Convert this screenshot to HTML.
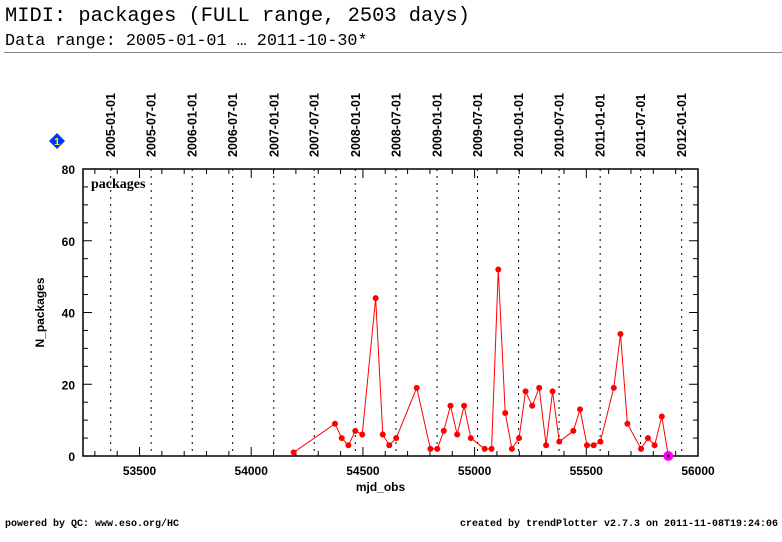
<!DOCTYPE html>
<html><head><meta charset="utf-8"><style>
body{margin:0;background:#fff;width:782px;height:542px;overflow:hidden;position:relative;font-family:"Liberation Sans",sans-serif}
.t{position:absolute;font-family:"Liberation Mono",monospace;color:#000;white-space:nowrap}
</style></head><body>
<div class="t" style="left:5px;top:6px;font-size:20.4px;line-height:22px">MIDI: packages (FULL range, 2503 days)</div>
<div class="t" style="left:5px;top:33px;font-size:16.8px;line-height:18px">Data range: 2005-01-01 … 2011-10-30*</div>
<div style="position:absolute;left:4px;top:52px;width:778px;height:1px;background:#888"></div>
<div class="t" style="left:5px;top:519px;font-size:10px;font-weight:bold">powered by QC: www.eso.org/HC</div>
<div class="t" style="right:4px;top:519px;font-size:10px;font-weight:bold">created by trendPlotter v2.7.3 on 2011-11-08T19:24:06</div>
<svg id="chart" width="782" height="542" style="position:absolute;left:0;top:0" font-family="Liberation Sans, sans-serif"></svg>
<script>
const xVals=[54190,54375,54405,54435,54466,54497,54557,54589,54618,54649,54741,54802,54833,54862,54892,54922,54953,54983,55045,55076,55106,55137,55167,55199,55228,55258,55289,55320,55349,55379,55442,55472,55503,55533,55563,55623,55653,55684,55745,55776,55806,55838,55867];
const yVals=[1,9,5,3,7,6,44,6,3,5,19,2,2,7,14,6,14,5,2,2,52,12,2,5,18,14,19,3,18,4,7,13,3,3,4,19,34,9,2,5,3,11,0];
const xTicks=[53500,54000,54500,55000,55500,56000];
const yTicks=[0,20,40,60,80];
const dateLabels=["2005-01-01","2005-07-01","2006-01-01","2006-07-01","2007-01-01","2007-07-01","2008-01-01","2008-07-01","2009-01-01","2009-07-01","2010-01-01","2010-07-01","2011-01-01","2011-07-01","2012-01-01"];
const dateMjd=[53371,53552,53736,53917,54101,54282,54466,54648,54832,55013,55197,55378,55562,55743,55927];
const L=83,R=698,T=169,B=456,xmin=53247,xmax=56000,ymin=0,ymax=80;
const sx=v=>L+(v-xmin)/(xmax-xmin)*(R-L);
const sy=v=>B-(v-ymin)/(ymax-ymin)*(B-T);
const svg=document.getElementById('chart');
const NS='http://www.w3.org/2000/svg';
function mk(tag,attrs,parent){const e=document.createElementNS(NS,tag);for(const k in attrs)e.setAttribute(k,attrs[k]);(parent||svg).appendChild(e);return e;}
dateMjd.forEach((m,i)=>{
  const x=sx(m);
  const g=mk('line',{x1:x,x2:x,y1:T,y2:B,stroke:'#000','stroke-width':1,'stroke-dasharray':'2,5'});
  
  
  const t=mk('text',{x:0,y:0,transform:`translate(${x+4.5},157) rotate(-90)`,'font-size':'12.5','font-weight':'bold'});
  t.textContent=dateLabels[i];
  
  
});
const fr=mk('rect',{x:L,y:T,width:R-L,height:B-T,fill:'none',stroke:'#000','stroke-width':1.5});


for(let v=53300;v<=56000;v+=100){const x=sx(v);const big=v%500===0;
  mk('line',{x1:x,x2:x,y1:B,y2:B-(big?9:5),stroke:'#000'});mk('line',{x1:x,x2:x,y1:T,y2:T+(big?9:5),stroke:'#000'});}
xTicks.forEach(v=>{const t=mk('text',{x:sx(v),y:B+19,'text-anchor':'middle','font-size':'12','font-weight':'bold'});t.textContent=v;
  
  });
for(let v=0;v<=80;v+=5){const y=sy(v);const big=v%20===0;
  mk('line',{x1:L,x2:L+(big?9:5),y1:y,y2:y,stroke:'#000'});mk('line',{x1:R,x2:R-(big?9:5),y1:y,y2:y,stroke:'#000'});}
yTicks.forEach(v=>{const t=mk('text',{x:L-8,y:sy(v)+5,'text-anchor':'end','font-size':'12','font-weight':'bold'});t.textContent=v;
  
  });
const xt=mk('text',{x:(L+R)/2-10,y:491,'text-anchor':'middle','font-size':'12','font-weight':'bold'});xt.textContent='mjd_obs';


const yt=mk('text',{x:0,y:0,transform:`translate(44,${(T+B)/2}) rotate(-90)`,'text-anchor':'middle','font-size':'12','font-weight':'bold'});yt.textContent='N_packages';


const lb=mk('text',{x:91,y:188,'font-size':'14','font-weight':'bold','font-family':'Liberation Serif, serif'});lb.textContent='packages';


const pl=mk('polyline',{points:xVals.map((x,i)=>sx(x)+','+sy(yVals[i])).join(' '),fill:'none',stroke:'#f00','stroke-width':1});


xVals.forEach((x,i)=>{const last=i===xVals.length-1;
  const c=mk('circle',{cx:sx(x),cy:sy(yVals[i]),r:last?5:3,fill:last?'#f0f':'#f00'});
  
  
  if(last){mk('circle',{cx:sx(x),cy:sy(yVals[i]),r:1.5,fill:'#000'});}
});
const d=mk('g',{});


mk('polygon',{points:'57,133 65,141 57,149 49,141',fill:'#0033ff'},d);
const dt=mk('text',{x:57,y:145,'text-anchor':'middle','font-size':'10','font-weight':'bold',fill:'#ff0'},d);dt.textContent='1';
</script>
</body></html>
